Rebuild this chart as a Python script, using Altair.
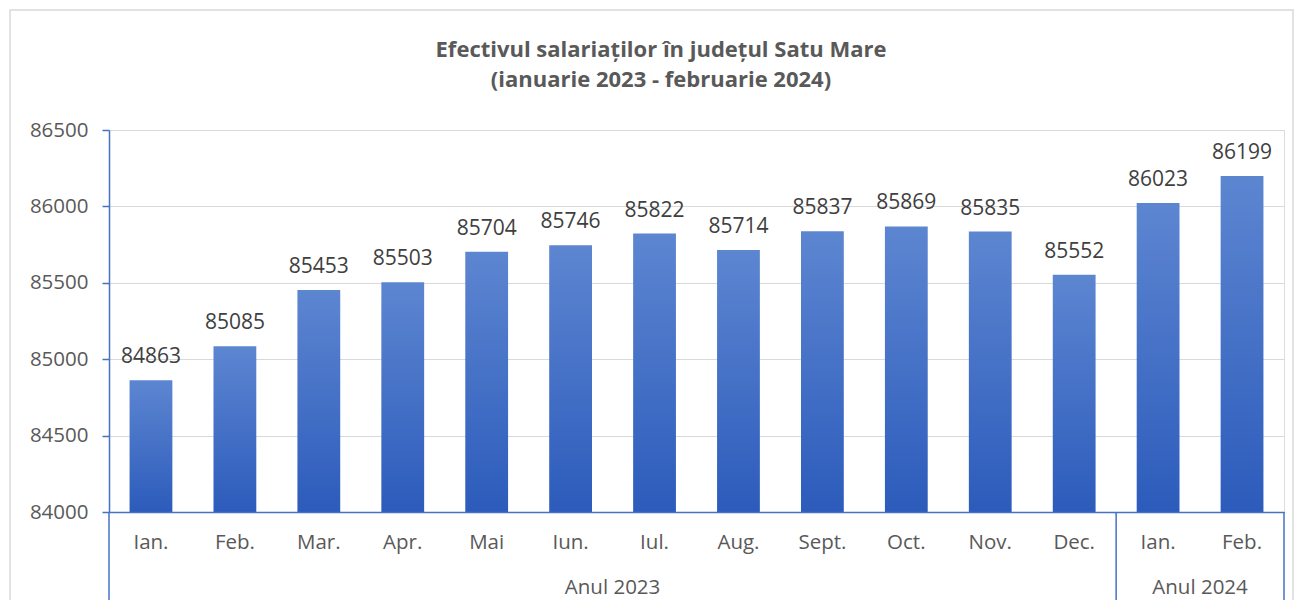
import altair as alt
import pandas as pd

# ---- data ----
months = ["Ian.", "Feb.", "Mar.", "Apr.", "Mai", "Iun.", "Iul.", "Aug.",
          "Sept.", "Oct.", "Nov.", "Dec.", "Ian.", "Feb."]
years = ["Anul 2023"] * 12 + ["Anul 2024"] * 2
values = [84863, 85085, 85453, 85503, 85704, 85746, 85822, 85714,
          85837, 85869, 85835, 85552, 86023, 86199]
y_ticks = [84000, 84500, 85000, 85500, 86000, 86500]
title_lines = ["Efectivul salariaților în județul Satu Mare",
               "(ianuarie 2023 - februarie 2024)"]

# ---- layout ----
W, H = 1175, 382
FONT = "Open Sans"
BLUE = "#4472C4"
TXT = "#595959"
n = len(months)
step = W / n
pad_in = 0.49

keys = [f"{y}|{i}" for i, y in enumerate(years)]
df = pd.DataFrame({"key": keys, "month": months, "year": years, "value": values})

xscale = alt.Scale(domain=keys, paddingInner=pad_in, paddingOuter=pad_in / 2)
x_enc = alt.X("key:N", scale=xscale, sort=None,
              axis=alt.Axis(labels=False, ticks=False, title=None, grid=False,
                            domainColor=BLUE, domainWidth=1.5, zindex=1))
y_enc = alt.Y("value:Q", scale=alt.Scale(domain=[y_ticks[0], y_ticks[-1]], nice=False, zero=False),
              axis=alt.Axis(values=y_ticks, format="d", title=None, domainColor=BLUE,
                            domainWidth=1.5, tickColor=BLUE, tickSize=7, tickWidth=1.5,
                            gridColor="#D9D9D9", gridWidth=1,
                            labelFont=FONT, labelFontSize=20.5, labelColor=TXT,
                            labelPadding=14))

base = alt.Chart(df)

grad = alt.LinearGradient(gradient="linear",
                          stops=[alt.GradientStop(color="#5D86D1", offset=0),
                                 alt.GradientStop(color="#2C5BBB", offset=1)],
                          x1=0, x2=0, y1=0, y2=1)

bars = base.mark_bar(fill=grad, stroke=None).encode(
    x=x_enc, y=y_enc, y2=alt.datum(y_ticks[0]))

value_labels = base.mark_text(font=FONT, fontSize=21, color="#404040",
                              baseline="alphabetic", dy=-17).encode(
    x=alt.X("key:N", scale=xscale, sort=None),
    y="value:Q",
    text=alt.Text("value:Q", format="d"))

month_labels = base.mark_text(font=FONT, fontSize=20.5, color=TXT, baseline="middle").encode(
    x=alt.X("key:N", scale=xscale, sort=None),
    y=alt.value(H + 31),
    text="month:N")

layers = [bars, value_labels, month_labels]

# group labels and separators
groups = []
for y in years:
    if y not in groups:
        groups.append(y)
bounds = [0]
for g in groups:
    idx = [i for i, yy in enumerate(years) if yy == g]
    center = (idx[0] + idx[-1]) / 2
    layers.append(alt.Chart(pd.DataFrame({"g": [g]})).mark_text(
        font=FONT, fontSize=20.5, color=TXT, baseline="middle").encode(
        x=alt.value((center + 0.5) * step), y=alt.value(H + 76), text="g:N"))
    bounds.append(idx[-1] + 1)

for b in bounds:
    layers.append(alt.Chart(pd.DataFrame({"b": [b]})).mark_rule(
        color=BLUE, strokeWidth=1.5).encode(
        x=alt.value(b * step), y=alt.value(H), y2=alt.value(H + 95)))

# outer chart border (decoration)
layers.append(alt.Chart(pd.DataFrame({"a": [0]})).mark_rect(
    fill=None, stroke="#D9D9D9", strokeWidth=1.5).encode(
    x=alt.value(-99), x2=alt.value(W + 9), y=alt.value(-120), y2=alt.value(H + 200)))

# title lines
for i, t in enumerate(title_lines):
    layers.append(alt.Chart(pd.DataFrame({"t": [t]})).mark_text(
        font=FONT, fontSize=22, fontWeight="bold", color=TXT, baseline="middle").encode(
        x=alt.value(552), y=alt.value(-80 + 30 * i), text="t:N"))

chart = alt.layer(*layers).properties(
    width=W, height=H,
    autosize=alt.AutoSizeParams(type="none"),
    padding={"left": 101, "top": 122, "right": 11, "bottom": 88},
).configure_view(stroke=None).configure(background="white")

chart.save("out.html", embed_options={"renderer": "svg", "actions": False})
